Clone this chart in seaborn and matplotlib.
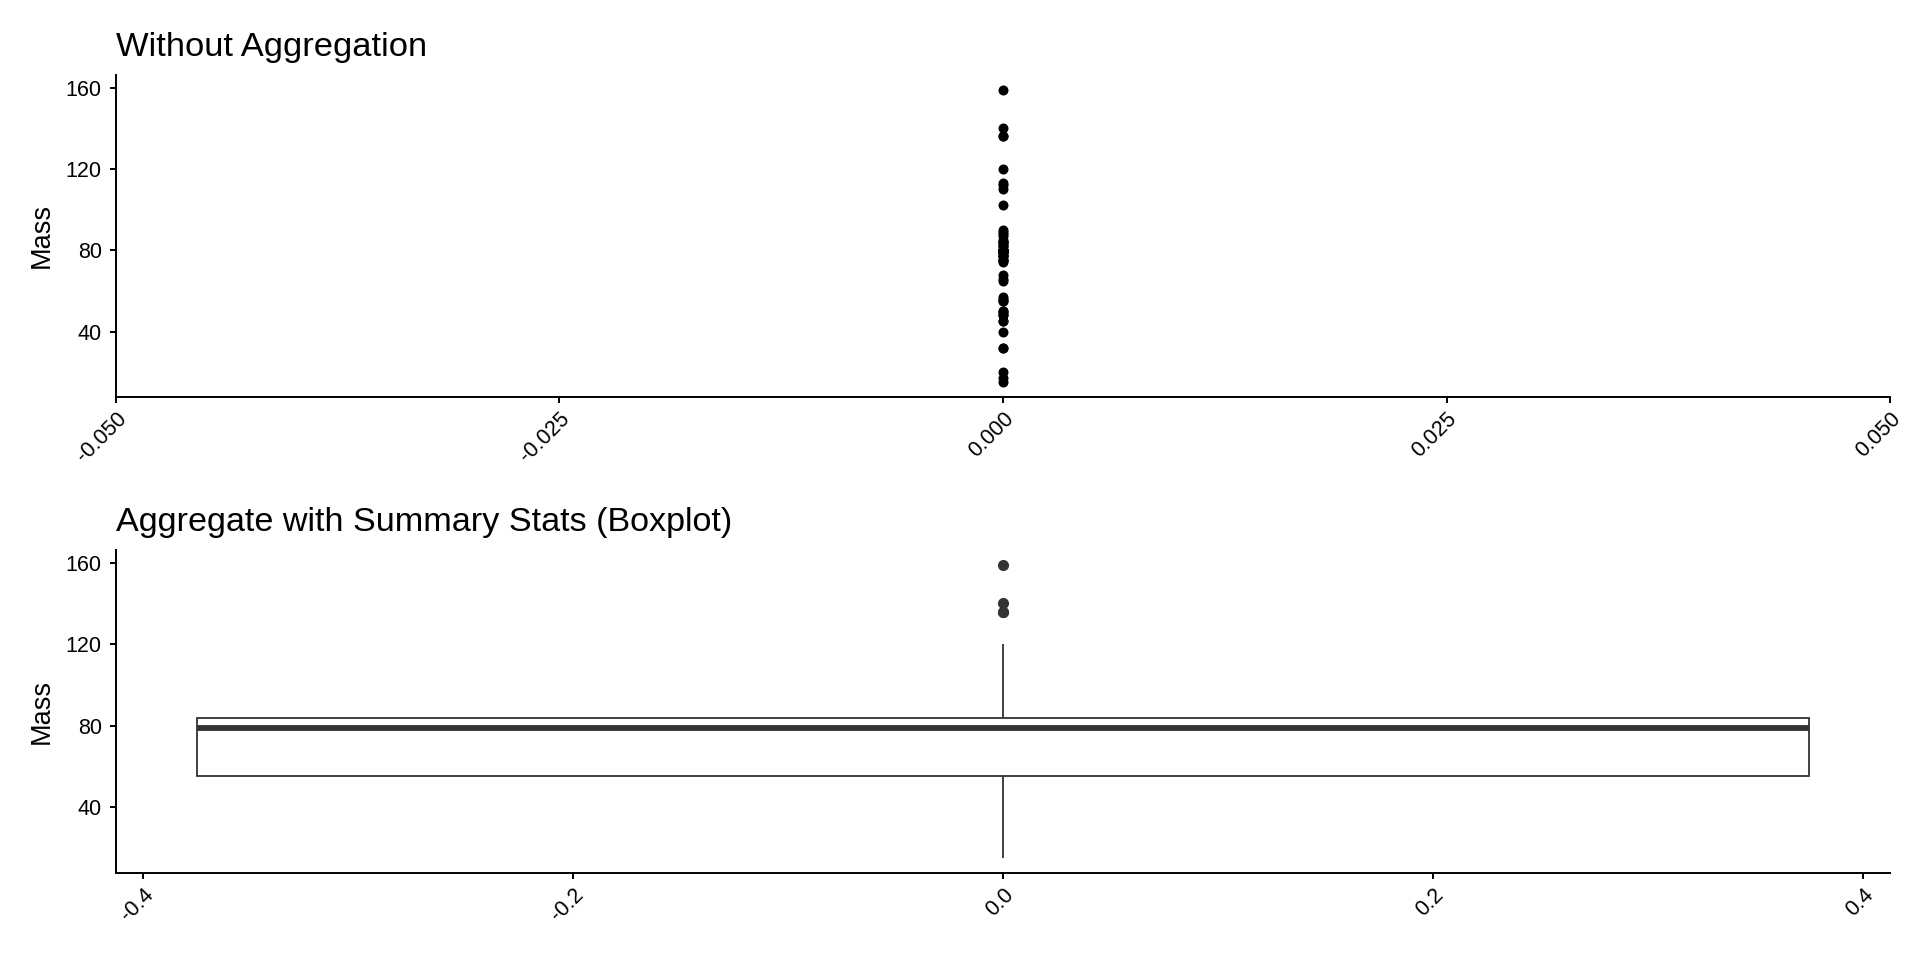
import matplotlib
matplotlib.use("Agg")
import matplotlib.pyplot as plt
import seaborn as sns
import pandas as pd

# character masses (starwars, Jabba removed)
mass = [77, 75, 32, 136, 49, 120, 75, 32, 84, 77, 84, 112, 80, 74, 77, 110,
        17, 75, 78.2, 140, 113, 79, 79, 83, 20, 68, 89, 90, 45, 66, 82, 40,
        80, 55, 15, 45, 65, 84, 82, 87, 50, 80, 85, 80, 56.2, 50, 80, 79, 55,
        102, 88, 48, 57, 159, 136, 79, 48, 80]

top_ticks = [-0.05, -0.025, 0.0, 0.025, 0.05]
top_labels = ["-0.050", "-0.025", "0.000", "0.025", "0.050"]
bottom_ticks = [-0.4, -0.2, 0.0, 0.2, 0.4]
bottom_labels = ["-0.4", "-0.2", "0.0", "0.2", "0.4"]
y_ticks = [40, 80, 120, 160]

sns.set_style("ticks")
plt.rcParams["font.family"] = ["Liberation Sans", "DejaVu Sans"]
plt.rcParams["text.color"] = "black"
plt.rcParams["axes.labelcolor"] = "black"

df = pd.DataFrame({"mass": mass})

fig = plt.figure(figsize=(19.2, 9.6), dpi=100)
ax1 = fig.add_axes([0.0604, 0.5865, 0.924, 0.3354])
ax2 = fig.add_axes([0.0604, 0.0906, 0.924, 0.3365])

# top: raw points
sns.stripplot(data=df, y="mass", jitter=False, color="black", size=7.2,
              linewidth=0, ax=ax1)
ax1.set_xlim(-0.05, 0.05)
ax1.set_xticks(top_ticks)
ax1.set_xticklabels(top_labels)
ax1.set_title("Without Aggregation", loc="left", fontsize=24.8, pad=13.5,
              color="black")

# bottom: boxplot
sns.boxplot(data=df, y="mass", width=0.75, color="white", linecolor="#333333",
            linewidth=1.3, fliersize=7.0,
            flierprops={"marker": "o", "markerfacecolor": "#333333",
                        "markeredgecolor": "#333333"},
            medianprops={"linewidth": 4.2, "color": "#333333"},
            capprops={"visible": False}, ax=ax2)
ax2.set_xlim(-0.4125, 0.4125)
ax2.set_xticks(bottom_ticks)
ax2.set_xticklabels(bottom_labels)
ax2.set_title("Aggregate with Summary Stats (Boxplot)", loc="left",
              fontsize=24.6, pad=13.5, color="black")

for ax in (ax1, ax2):
    ax.set_ylim(7.8, 166.2)
    ax.set_yticks(y_ticks)
    ax.set_ylabel("Mass", fontsize=19.5, labelpad=8, color="black")
    ax.set_xlabel("")
    sns.despine(ax=ax)
    for s in ("left", "bottom"):
        ax.spines[s].set_linewidth(1.4)
        ax.spines[s].set_color("black")
    ax.tick_params(axis="both", length=4.3, width=1.4, color="black",
                   labelsize=15.5, labelcolor="black")
    ax.tick_params(axis="y", pad=6)
    ax.tick_params(axis="x", pad=4)
    for lab in ax.get_xticklabels():
        lab.set_rotation(45)
        lab.set_ha("right")
        lab.set_va("top")
        lab.set_rotation_mode("anchor")

fig.savefig("out.png", dpi=100, facecolor="white")
plt.close(fig)
